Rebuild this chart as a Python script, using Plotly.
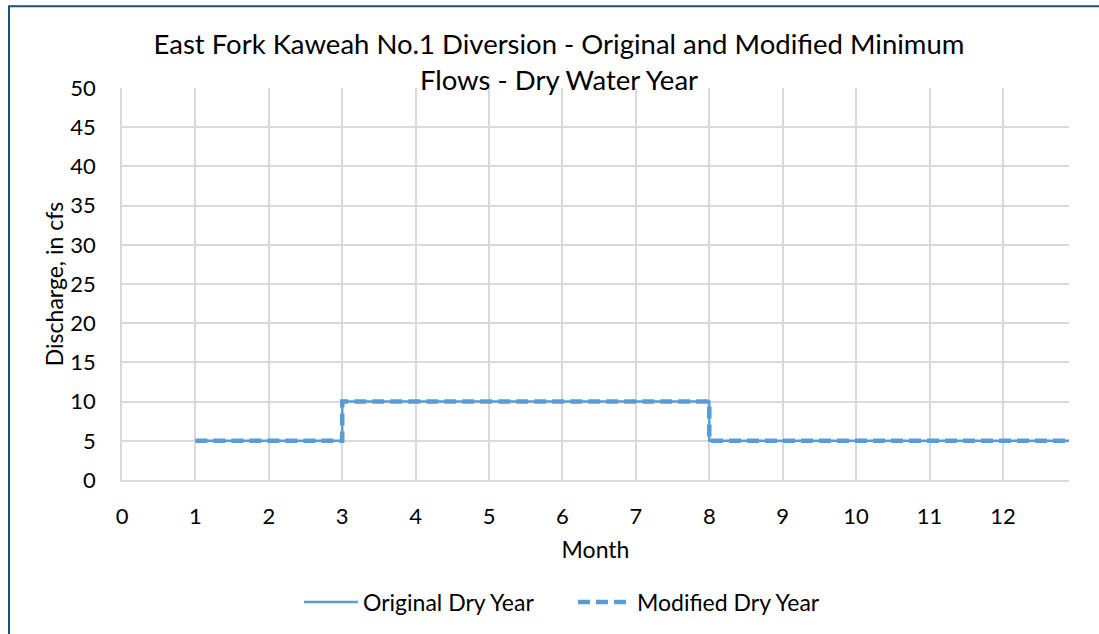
import plotly.graph_objects as go

# Data
months = [1, 3, 8, 13]
original_dry = [5, 10, 5, 5]
modified_dry = [5, 10, 5, 5]
x_ticks = list(range(0, 13))
y_ticks = list(range(0, 51, 5))

title_text = ("East Fork Kaweah No.1 Diversion - Original and Modified Minimum"
              "<br>Flows - Dry Water Year")

LINE_COLOR = "#5B9BD5"
GRID = "#D9D9D9"
FONT = "Lato"

W, H = 1099, 634
L, R, T, B = 122, 30, 88, 153

fig = go.Figure()
fig.add_trace(go.Scatter(
    x=months, y=original_dry, name="Original Dry Year", mode="lines",
    line=dict(color=LINE_COLOR, width=2.5, shape="hv"),
))
fig.add_trace(go.Scatter(
    x=months, y=modified_dry, name="Modified Dry Year", mode="lines",
    line=dict(color=LINE_COLOR, width=4.5, shape="hv", dash="12px,6px"),
))

pw = W - L - R
ph = H - T - B
def px_to_paper_x(px):
    return (px - L) / pw
def px_to_paper_y(py):
    return (H - B - py) / ph

# outer chart border (extends beyond the visible window on right/bottom)
fig.add_shape(type="rect", xref="paper", yref="paper",
              x0=px_to_paper_x(9), x1=px_to_paper_x(1110),
              y0=px_to_paper_y(645), y1=px_to_paper_y(6),
              line=dict(color="#1F4E79", width=2), fillcolor="rgba(0,0,0,0)",
              layer="above")

fig.update_layout(
    width=W, height=H,
    margin=dict(l=L, r=R, t=T, b=B),
    paper_bgcolor="white", plot_bgcolor="white",
    font=dict(family=FONT, size=22, color="#000000"),
    title=dict(text=title_text, x=559 / W, xanchor="center",
               y=1 - 54 / H, yanchor="middle", yref="container",
               font=dict(family=FONT, size=27.5, color="#000000")),
    xaxis=dict(range=[0, 12.9], tickvals=x_ticks, ticktext=[str(v) for v in x_ticks],
               showgrid=True, gridcolor=GRID, gridwidth=1.5,
               showline=True, linecolor=GRID, linewidth=1.5,
               zeroline=False, ticks="", ticklabelstandoff=16,
               title=dict(text="Month", font=dict(size=23), standoff=14),
               tickfont=dict(size=22)),
    yaxis=dict(range=[0, 50], tickvals=y_ticks, ticktext=[str(v) for v in y_ticks],
               showgrid=True, gridcolor=GRID, gridwidth=1.5,
               showline=True, linecolor=GRID, linewidth=1.5,
               zeroline=False, ticks="", ticklabelstandoff=20,
               title=dict(text="Discharge, in cfs", font=dict(size=23), standoff=0),
               tickfont=dict(size=22)),
    legend=dict(orientation="h", x=px_to_paper_x(299), xanchor="left",
                y=px_to_paper_y(602), yanchor="middle",
                font=dict(size=23), itemwidth=54,
                entrywidth=205, entrywidthmode="pixels",
                traceorder="normal", bgcolor="rgba(0,0,0,0)"),
    showlegend=True,
)

fig.write_html("out.html", config={"displayModeBar": False},
               post_script="document.body.style.margin='0';")
